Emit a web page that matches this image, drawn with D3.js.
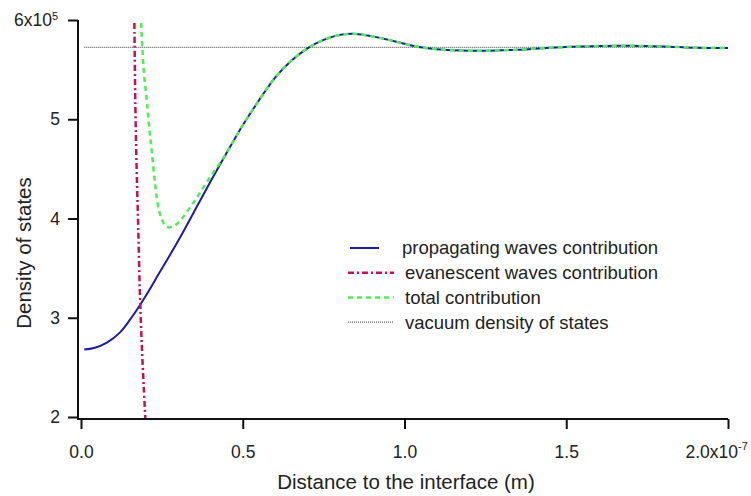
<!DOCTYPE html>
<html>
<head>
<meta charset="utf-8">
<script src="https://cdn.jsdelivr.net/npm/d3@7"></script>
<style>
  body { margin: 0; background: #fff; }
  svg { display: block; font-family: "Liberation Sans", Arial, Helvetica, sans-serif; }
</style>
</head>
<body>
<svg id="chart" width="751" height="496"></svg>
<script>
// distance in units of 1e-7 m, density in units of 1e5
var propX = [0.01, 0.04, 0.08, 0.12, 0.16, 0.20, 0.24, 0.28, 0.32, 0.36, 0.40, 0.45, 0.50, 0.55, 0.60,
             0.65, 0.70, 0.75, 0.80, 0.85, 0.90, 0.95, 1.00, 1.05, 1.10, 1.15, 1.20, 1.25, 1.30, 1.35,
             1.40, 1.45, 1.50, 1.55, 1.60, 1.65, 1.70, 1.75, 1.80, 1.85, 1.90, 1.95, 2.00];
var propY = [2.68, 2.695, 2.75, 2.85, 3.02, 3.22, 3.44, 3.66, 3.89, 4.13, 4.37, 4.66, 4.94, 5.19, 5.42,
             5.59, 5.715, 5.80, 5.85, 5.86, 5.835, 5.80, 5.76, 5.725, 5.705, 5.695, 5.69, 5.69, 5.695, 5.70,
             5.71, 5.72, 5.728, 5.733, 5.737, 5.74, 5.74, 5.737, 5.733, 5.727, 5.72, 5.718, 5.718];

var evanX = [0.165, 0.168, 0.172, 0.177, 0.182, 0.188, 0.194, 0.199];
var evanY = [5.97, 5.15, 4.50, 3.90, 3.25, 2.72, 2.30, 1.98];

// total near the interface; beyond 0.42 it is the propagating curve
var totalX = [0.186, 0.190, 0.195, 0.203, 0.210, 0.218, 0.229, 0.240, 0.250, 0.260, 0.272, 0.290,
              0.310, 0.330, 0.350, 0.370, 0.400];
var totalY = [5.97, 5.70, 5.45, 5.20, 4.95, 4.70, 4.35, 4.10, 3.99, 3.93, 3.91, 3.93,
              3.99, 4.08, 4.17, 4.27, 4.42];

var vacuumX = [0.01, 2.0];
var vacuumY = [5.725, 5.725];

var xTicks = [0, 0.5, 1.0, 1.5, 2.0];
var yTicks = [2, 3, 4, 5, 6];

var legendLabels = ["propagating waves contribution", "evanescent waves contribution",
                    "total contribution", "vacuum density of states"];

var svg = d3.select("#chart");

var x = d3.scaleLinear().domain([0, 2]).range([81, 728]);
var y = d3.scaleLinear().domain([2, 6]).range([417, 20]);

function pts(xs, ys) {
    return xs.map(function(d, i) { return [d, ys[i]]; });
}

var totalPts = pts(totalX, totalY).concat(pts(propX, propY).filter(function(p) { return p[0] > 0.42; }));

var styles = [
    { color: "#1c1caa", width: 2, dash: null },
    { color: "#c8104c", width: 2.5, dash: "6,3,2,3" },
    { color: "#50ee50", width: 2.5, dash: "5,4" },
    { color: "#333", width: 1, dash: "1,1" }
];

var line = d3.line()
    .x(function(d) { return x(d[0]); })
    .y(function(d) { return y(d[1]); })
    .curve(d3.curveCatmullRom.alpha(0.5));

var series = [
    { data: pts(vacuumX, vacuumY), s: styles[3] },
    { data: pts(propX, propY), s: styles[0] },
    { data: pts(evanX, evanY), s: styles[1] },
    { data: totalPts, s: styles[2] }
];

svg.selectAll("path.series")
    .data(series)
    .enter()
    .append("path")
    .attr("class", "series")
    .attr("d", function(d) { return line(d.data); })
    .attr("fill", "none")
    .attr("stroke", function(d) { return d.s.color; })
    .attr("stroke-width", function(d) { return d.s.width; })
    .attr("stroke-dasharray", function(d) { return d.s.dash; });

// axes
var yAxis = svg.append("g")
    .attr("transform", "translate(78,0)")
    .call(d3.axisLeft(y).tickValues(yTicks).tickSize(10).tickSizeOuter(0).tickPadding(8)
        .tickFormat(function(d) { return d; }));
var xAxis = svg.append("g")
    .attr("transform", "translate(0,419)")
    .call(d3.axisBottom(x).tickValues(xTicks).tickSize(10).tickSizeOuter(0).tickPadding(17)
        .tickFormat(d3.format(".1f")));

[yAxis, xAxis].forEach(function(g) {
    g.select(".domain").remove();
    g.selectAll(".tick line").attr("stroke", "#111").attr("stroke-width", 2);
    g.selectAll(".tick text").attr("fill", "#222").style("font-size", "17.5px");
});

svg.append("path")
    .attr("d", "M78,20V419H728")
    .attr("fill", "none")
    .attr("stroke", "#111")
    .attr("stroke-width", 2);

// exponents on the last tick labels
yAxis.selectAll(".tick text").filter(function(d) { return d === 6; })
    .text("6x10")
    .attr("x", -20)
    .append("tspan").attr("dy", "-0.55em").style("font-size", "11px").text("5");
xAxis.selectAll(".tick text").filter(function(d) { return d === 2; })
    .text("2.0x10")
    .attr("text-anchor", "start")
    .attr("x", -43)
    .append("tspan").attr("dy", "-0.75em").style("font-size", "11px").text("-7");

// axis titles
svg.append("text")
    .attr("x", 406).attr("y", 489)
    .attr("text-anchor", "middle")
    .attr("fill", "#222")
    .style("font-size", "20.5px")
    .text("Distance to the interface (m)");
svg.append("text")
    .attr("transform", "translate(31,253) rotate(-90)")
    .attr("text-anchor", "middle")
    .attr("fill", "#222")
    .style("font-size", "20.5px")
    .text("Density of states");

// legend
var legend = svg.selectAll("g.legend")
    .data(legendLabels)
    .enter()
    .append("g")
    .attr("class", "legend")
    .attr("transform", function(d, i) { return "translate(0," + (248 + i * 24.7) + ")"; });
legend.append("line")
    .attr("x1", function(d, i) { return i === 0 ? 350 : 348; })
    .attr("x2", function(d, i) { return i === 0 ? 379 : 394; })
    .attr("stroke", function(d, i) { return styles[i].color; })
    .attr("stroke-width", function(d, i) { return styles[i].width; })
    .attr("stroke-dasharray", function(d, i) { return styles[i].dash; });
legend.append("text")
    .attr("x", function(d, i) { return i === 0 ? 402 : 405; })
    .attr("dy", "0.35em")
    .attr("fill", "#222")
    .style("font-size", "18.5px")
    .text(function(d) { return d; });
</script>
</body>
</html>
